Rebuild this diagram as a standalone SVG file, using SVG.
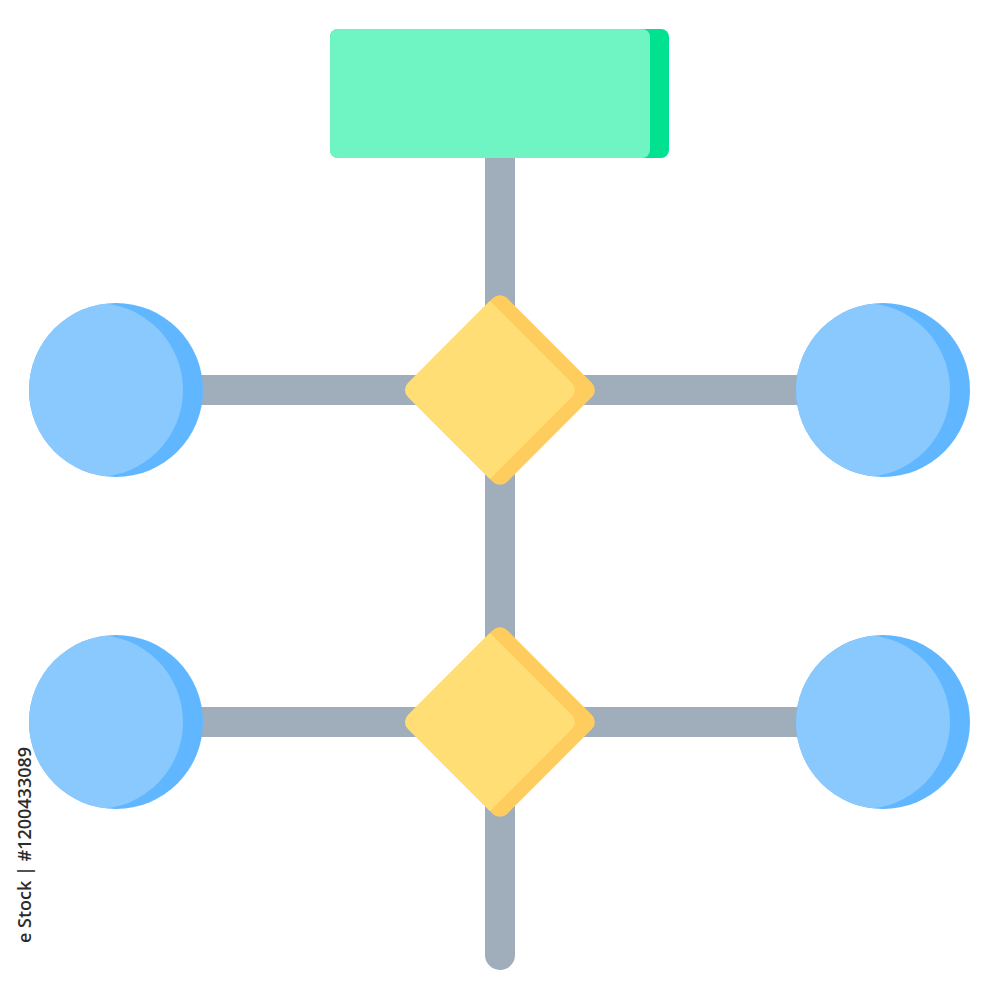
<svg xmlns="http://www.w3.org/2000/svg" width="1000" height="1000" viewBox="0 0 1000 1000">
<style>
.conn{stroke:#A0ADBA;stroke-width:30;fill:none}
.cd{fill:#60B7FF}.cl{fill:#8AC9FE}
.dd{fill:#FFCD5E}.dl{fill:#FFDE75}
</style>
<defs>
<clipPath id="rc"><rect x="330" y="29" width="339" height="129" rx="8"/></clipPath>
<clipPath id="dc"><rect x="-70" y="-70" width="140" height="140" rx="10"/></clipPath>
<clipPath id="cc"><circle cx="0" cy="0" r="87"/></clipPath>
</defs>
<rect width="1000" height="1000" fill="#fff"/>
<g id="connectors">
<line class="conn" x1="500" y1="150" x2="500" y2="955" stroke-linecap="round"/>
<line class="conn" x1="200" y1="390" x2="800" y2="390"/>
<line class="conn" x1="200" y1="722" x2="800" y2="722"/>
</g>
<g id="top">
<rect x="330" y="29" width="339" height="129" rx="8" fill="#00E290"/>
<rect x="311" y="29" width="339" height="129" rx="8" fill="#6EF5C3" clip-path="url(#rc)"/>
</g>
<g id="diamond1" transform="translate(500,390) rotate(45)">
<rect class="dd" x="-70" y="-70" width="140" height="140" rx="10"/>
<g clip-path="url(#dc)"><rect class="dl" x="-70" y="-70" width="140" height="140" rx="10" transform="rotate(-45) translate(-20,0) rotate(45)"/></g>
</g>
<g id="diamond2" transform="translate(500,722) rotate(45)">
<rect class="dd" x="-70" y="-70" width="140" height="140" rx="10"/>
<g clip-path="url(#dc)"><rect class="dl" x="-70" y="-70" width="140" height="140" rx="10" transform="rotate(-45) translate(-20,0) rotate(45)"/></g>
</g>
<g id="circle1" transform="translate(116,390)">
<circle class="cd" r="87"/><circle class="cl" cx="-20" r="87" clip-path="url(#cc)"/>
</g>
<g id="circle2" transform="translate(883,390)">
<circle class="cd" r="87"/><circle class="cl" cx="-20" r="87" clip-path="url(#cc)"/>
</g>
<g id="circle3" transform="translate(116,722)">
<circle class="cd" r="87"/><circle class="cl" cx="-20" r="87" clip-path="url(#cc)"/>
</g>
<g id="circle4" transform="translate(883,722)">
<circle class="cd" r="87"/><circle class="cl" cx="-20" r="87" clip-path="url(#cc)"/>
</g>
<text transform="translate(31,845) rotate(-90)" text-anchor="middle" font-family="'Open Sans','Noto Sans',sans-serif" font-weight="600" font-size="18" fill="#2b2b2b">e Stock | #1200433089</text>
</svg>
